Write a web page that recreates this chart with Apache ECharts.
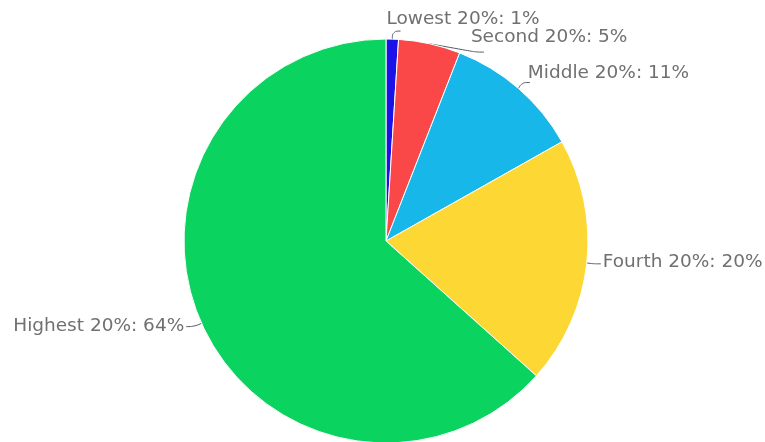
<!DOCTYPE html>
<html>
<head>
<meta charset="utf-8">
<script src="https://cdn.jsdelivr.net/npm/echarts@6/dist/echarts.min.js"></script>
<style>
  html, body { margin: 0; padding: 0; background: #fff; }
  #chart { width: 765px; height: 442px; }
</style>
</head>
<body>
<div id="chart"></div>
<script>
// Share of income by quintile
const categories = ['Lowest 20%', 'Second 20%', 'Middle 20%', 'Fourth 20%', 'Highest 20%'];
const shares = [1, 5, 11, 20, 64];
const colors = ['#1a12e6', '#fa4747', '#18b7ea', '#fdd835', '#0bd35f'];

// nudges for the crowded labels of the small slices at the top
const labelShift = [
  { dx: -16, dy: -12 },
  { dx: -15, dy: -15 },
  { dx: -4, dy: -9 },
  { dx: 0, dy: -2 }
];

const chart = echarts.init(document.getElementById('chart'), null, { renderer: 'canvas' });

const data = categories.map((name, i) => ({
  name: name,
  value: shares[i],
  itemStyle: { color: colors[i] }
}));

chart.setOption({
  animation: false,
  backgroundColor: '#ffffff',
  series: [{
    type: 'pie',
    center: [386, 241],
    radius: 202,
    startAngle: 90,
    clockwise: true,
    data: data,
    itemStyle: { borderColor: '#ffffff', borderWidth: 1 },
    label: {
      show: true,
      formatter: p => p.name + ': ' + p.value + '%',
      color: '#707070',
      fontFamily: 'DejaVu Sans',
      fontSize: 18.5,
      overflow: 'none',
      distanceToLabelLine: 2
    },
    labelLine: {
      show: true,
      length: 8,
      length2: 8,
      smooth: 0.4,
      lineStyle: { color: '#555a66', width: 1 }
    },
    labelLayout: function (params) {
      return labelShift[params.dataIndex] || {};
    }
  }]
});
</script>
</body>
</html>
